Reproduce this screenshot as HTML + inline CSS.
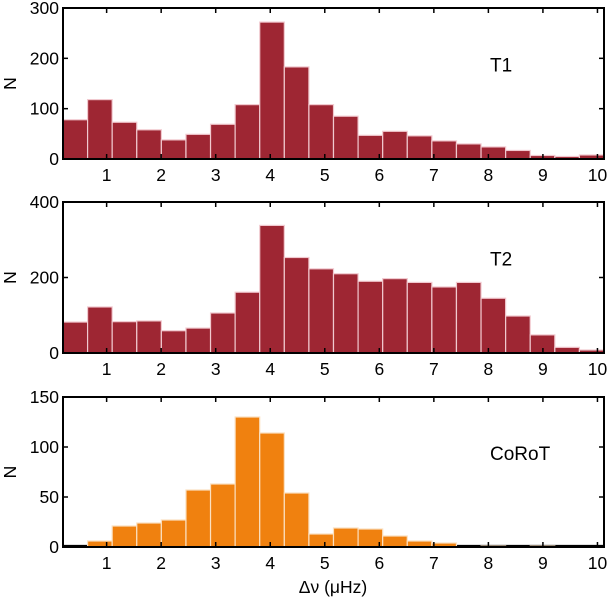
<!DOCTYPE html>
<html><head><meta charset="utf-8"><style>
body{margin:0;background:#fff;width:609px;height:598px;overflow:hidden}
svg{font-family:"Liberation Sans",sans-serif}
</style></head><body>
<svg id="chart" width="609" height="598"></svg>
<script>
const xTicks=[1,2,3,4,5,6,7,8,9,10];
const binStart=0.2, binEnd=10.12, binCount=22;
const t1Counts=[78,118,73,58,38,49,69,108,272,183,108,85,47,55,46,36,30,24,17,7,5,8];
const t2Counts=[82,122,83,85,59,66,106,161,338,253,223,210,190,197,187,175,187,145,98,48,15,8];
const corotCounts=[0,6,21,24,27,57,63,130,114,54,13,19,18,11,6,4,0,1,0,1,0,0];
const t1Ticks=[0,100,200,300];
const t2Ticks=[0,200,400];
const corotTicks=[0,50,100,150];
const panelNames=["T1","T2","CoRoT"];

const NS="http://www.w3.org/2000/svg";
const svg=document.getElementById('chart');
function mk(tag,attrs,parent){const e=document.createElementNS(NS,tag);for(const k in attrs)e.setAttribute(k,attrs[k]);(parent||svg).appendChild(e);return e;}
const L=63,R=604;
function xs(v){return L+(v-binStart)/(binEnd-binStart)*(R-L);}

function panel(top,bottom,counts,ticks,label,color,edge,key,baseline){
  const g=mk('g',{});
  
  
  const ymax=ticks[ticks.length-1];
  const ys=v=>bottom-v/ymax*(bottom-top);
  const w=(binEnd-binStart)/binCount;
  if(baseline){
    const bl=mk('line',{x1:L,x2:R,y1:bottom-1.5,y2:bottom-1.5,stroke:'#000','stroke-width':1.2},g);
    
    
  }
  counts.forEach((c,i)=>{
    const x0=xs(binStart+i*w), x1=xs(binStart+(i+1)*w);
    if(c<=0) return;
    const r=mk('rect',{x:x0,y:ys(c),width:x1-x0,height:bottom-ys(c),fill:color,stroke:edge,'stroke-width':1.2},g);
    
    
  });
  const fr=mk('rect',{x:L,y:top,width:R-L,height:bottom-top,fill:'none',stroke:'#000','stroke-width':2},g);
  
  
  xTicks.forEach(t=>{
    const x=xs(t);
    mk('line',{x1:x,x2:x,y1:bottom,y2:bottom-5,stroke:'#000','stroke-width':1.5},g);
    mk('line',{x1:x,x2:x,y1:top,y2:top+5,stroke:'#000','stroke-width':1.5},g);
    const tx=mk('text',{x:x,y:bottom+22,'text-anchor':'middle','font-size':17.5},g);
    tx.textContent=t;
    
    
  });
  ticks.forEach(t=>{
    const y=ys(t);
    mk('line',{x1:L,x2:L+5,y1:y,y2:y,stroke:'#000','stroke-width':1.5},g);
    mk('line',{x1:R,x2:R-5,y1:y,y2:y,stroke:'#000','stroke-width':1.5},g);
    const tx=mk('text',{x:L-4,y:y+6,'text-anchor':'end','font-size':17.5},g);
    tx.textContent=t;
    
    
  });
  const yl=mk('text',{x:16,y:(top+bottom)/2,'text-anchor':'middle','font-size':17.5,transform:'rotate(-90 16 '+(top+bottom)/2+')'},g);
  yl.textContent='N';
  
  
  const lb=mk('text',{x:490,y:top+(bottom-top)*0.42,'font-size':19},g);
  lb.textContent=label;
  
  
}
panel(8,159,t1Counts,t1Ticks,panelNames[0],'#9e2633','#f1c9cf','t1',false);
panel(202,353,t2Counts,t2Ticks,panelNames[1],'#9e2633','#f1c9cf','t2',false);
panel(397,547,corotCounts,corotTicks,panelNames[2],'#f0810f','#fbe0c0','corot',true);
const xl=mk('text',{x:333,y:593,'text-anchor':'middle','font-size':17.5});
xl.textContent='Δν (μHz)';


</script>
</body></html>
